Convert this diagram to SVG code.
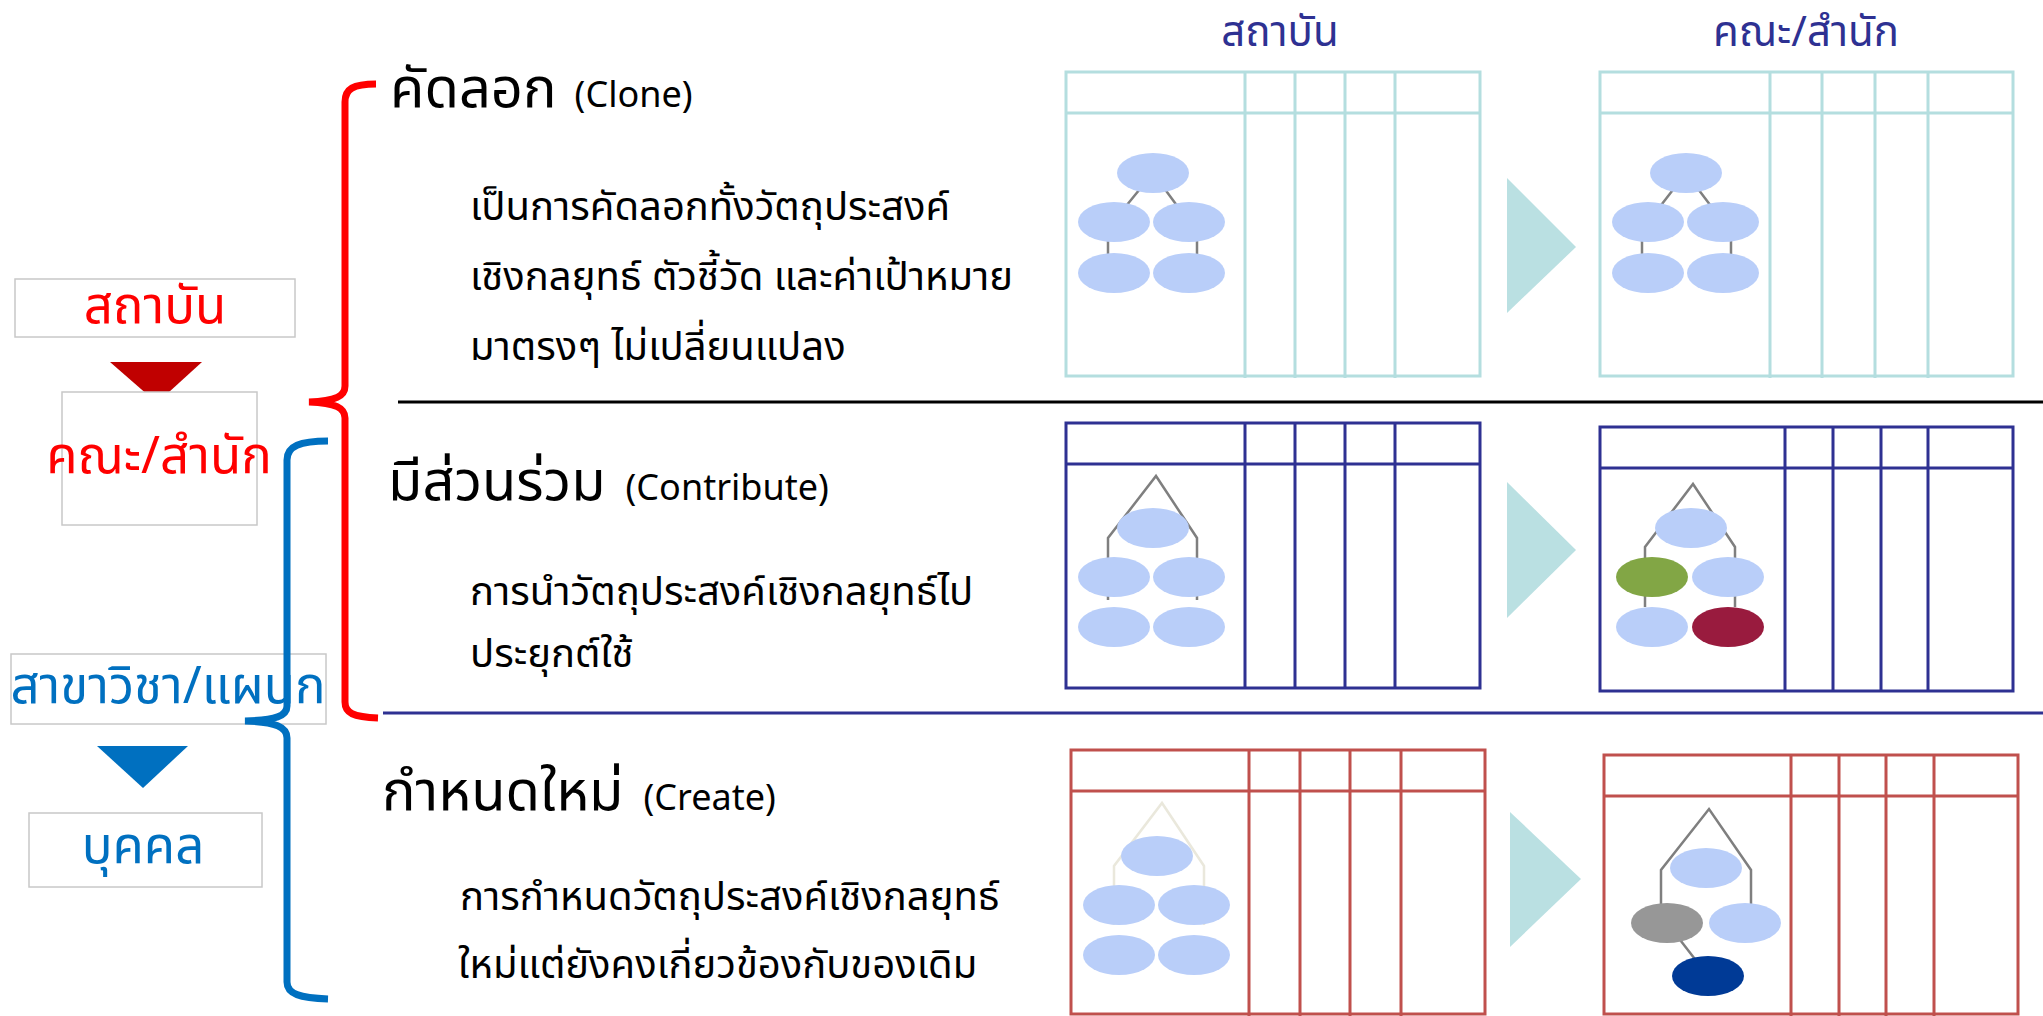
<svg xmlns="http://www.w3.org/2000/svg" width="2043" height="1016" viewBox="0 0 2043 1016">
<style>
text{font-family:"Noto Sans Thai","Noto Sans","Liberation Sans",sans-serif;}
.lbl{font-size:51px;text-anchor:middle;}
.red{fill:#FF0000;}
.blue{fill:#0070C0;}
.hdr{font-size:42px;fill:#2E3192;text-anchor:middle;}
.title{font-size:56px;fill:#000;}
.sub{font-size:36px;fill:#000;}
.body{font-size:40px;fill:#000;}
.box{fill:#fff;stroke:#C8C8C8;stroke-width:1.5;}
.tc{fill:none;stroke:#B4DEDF;stroke-width:3;}
.tn{fill:none;stroke:#2E3192;stroke-width:3;}
.tr{fill:none;stroke:#C0504D;stroke-width:3;}
.ln{fill:none;stroke:#7F7F7F;stroke-width:2.5;}
.lnf{fill:none;stroke:#EAE8DC;stroke-width:2.5;}
.nd{fill:#B9CEF9;}
.arr{fill:#BAE0E2;}
.brace{fill:none;stroke-width:7;stroke-linecap:butt;}
</style>
<rect width="2043" height="1016" fill="#fff"/>

<!-- left hierarchy -->
<g id="lvl-institute">
<rect class="box" x="15" y="279" width="280" height="58"/>
<text class="lbl red" x="155" y="323">สถาบัน</text>
</g>
<polygon id="arrow-red" points="110,362 202,362 157,403" fill="#C00000"/>
<g id="lvl-faculty">
<rect class="box" x="62" y="392" width="195" height="133"/>
<text class="lbl red" x="159" y="473">คณะ/สำนัก</text>
</g>
<g id="lvl-dept">
<rect class="box" x="11" y="654" width="315" height="70"/>
<text class="lbl blue" x="168" y="703">สาขาวิชา/แผนก</text>
</g>
<polygon id="arrow-blue" points="97,746 188,746 143,788" fill="#0070C0"/>
<g id="lvl-person">
<rect class="box" x="29" y="813" width="233" height="74"/>
<text class="lbl blue" x="143" y="863">บุคคล</text>
</g>

<!-- braces -->
<g id="braces">
<path class="brace" stroke="#FF0000" d="M376,84 C353,84 345,89 345,102 L345,386 C345,396 336,401 309,402 C336,403 345,408 345,418 L345,702 C345,713 353,717 378,718"/>
<path class="brace" stroke="#0070C0" d="M328,441 C300,441 287,446 287,460 L287,706 C287,716 276,720 245,721 C276,722 287,727 287,738 L287,982 C287,994 300,998 328,999"/>
</g>

<!-- separators -->
<line x1="398" y1="402" x2="2043" y2="402" stroke="#000" stroke-width="3"/>
<line x1="383" y1="713" x2="2043" y2="713" stroke="#2E3192" stroke-width="3"/>

<!-- column headers -->
<text class="hdr" x="1280" y="46">สถาบัน</text>
<text class="hdr" x="1806" y="46">คณะ/สำนัก</text>

<!-- section texts -->
<g id="clone-text">
<text x="390" y="107"><tspan class="title">คัดลอก</tspan><tspan class="sub" dx="18">(Clone)</tspan></text>
<text class="body" x="470" y="220">เป็นการคัดลอกทั้งวัตถุประสงค์</text>
<text class="body" x="470" y="290">เชิงกลยุทธ์ ตัวชี้วัด และค่าเป้าหมาย</text>
<text class="body" x="470" y="360">มาตรงๆ ไม่เปลี่ยนแปลง</text>
</g>
<g id="contribute-text">
<text x="388" y="500"><tspan class="title">มีส่วนร่วม</tspan><tspan class="sub" dx="20">(Contribute)</tspan></text>
<text class="body" x="470" y="605">การนำวัตถุประสงค์เชิงกลยุทธ์ไป</text>
<text class="body" x="470" y="667">ประยุกต์ใช้</text>
</g>
<g id="create-text">
<text x="382" y="810"><tspan class="title">กำหนดใหม่</tspan><tspan class="sub" dx="20">(Create)</tspan></text>
<text class="body" x="460" y="910">การกำหนดวัตถุประสงค์เชิงกลยุทธ์</text>
<text class="body" x="458" y="978">ใหม่แต่ยังคงเกี่ยวข้องกับของเดิม</text>
</g>

<!-- clone tables -->
<g id="clone-inst">
<rect class="tc" x="1066" y="72" width="414" height="304"/>
<path class="tc" d="M1066,113 H1480 M1245,72 V378 M1295,72 V378 M1345,72 V378 M1395,72 V378"/>
<path class="ln" d="M1153,173 L1113,222 M1153,173 L1189,222 M1108,222 V273 M1197,222 V273"/>
<ellipse class="nd" cx="1153" cy="173" rx="36" ry="20"/>
<ellipse class="nd" cx="1114" cy="222" rx="36" ry="20"/>
<ellipse class="nd" cx="1189" cy="222" rx="36" ry="20"/>
<ellipse class="nd" cx="1114" cy="273" rx="36" ry="20"/>
<ellipse class="nd" cx="1189" cy="273" rx="36" ry="20"/>
</g>
<polygon class="arr" points="1507,178 1576,247 1507,313"/>
<g id="clone-fac">
<rect class="tc" x="1600" y="72" width="413" height="304"/>
<path class="tc" d="M1600,113 H2013 M1770,72 V378 M1822,72 V378 M1875,72 V378 M1928,72 V378"/>
<path class="ln" d="M1686,173 L1648,222 M1686,173 L1723,222 M1642,222 V273 M1731,222 V273"/>
<ellipse class="nd" cx="1686" cy="173" rx="36" ry="20"/>
<ellipse class="nd" cx="1648" cy="222" rx="36" ry="20"/>
<ellipse class="nd" cx="1723" cy="222" rx="36" ry="20"/>
<ellipse class="nd" cx="1648" cy="273" rx="36" ry="20"/>
<ellipse class="nd" cx="1723" cy="273" rx="36" ry="20"/>
</g>

<!-- contribute tables -->
<g id="contrib-inst">
<rect class="tn" x="1066" y="423" width="414" height="265"/>
<path class="tn" d="M1066,464 H1480 M1245,423 V688 M1295,423 V688 M1345,423 V688 M1395,423 V688"/>
<path class="ln" d="M1108,600 V538 L1156,476 L1197,538 V600"/>
<ellipse class="nd" cx="1153" cy="528" rx="36" ry="20"/>
<ellipse class="nd" cx="1114" cy="577" rx="36" ry="20"/>
<ellipse class="nd" cx="1189" cy="577" rx="36" ry="20"/>
<ellipse class="nd" cx="1114" cy="627" rx="36" ry="20"/>
<ellipse class="nd" cx="1189" cy="627" rx="36" ry="20"/>
</g>
<polygon class="arr" points="1507,482 1576,550 1507,618"/>
<g id="contrib-fac">
<rect class="tn" x="1600" y="427" width="413" height="264"/>
<path class="tn" d="M1600,468 H2013 M1785,427 V691 M1833,427 V691 M1881,427 V691 M1928,427 V691"/>
<path class="ln" d="M1645,607 V547 L1693,484 L1735,547 V607"/>
<ellipse class="nd" cx="1691" cy="528" rx="36" ry="20"/>
<ellipse cx="1652" cy="577" rx="36" ry="20" fill="#82A645"/>
<ellipse class="nd" cx="1728" cy="577" rx="36" ry="20"/>
<ellipse class="nd" cx="1652" cy="627" rx="36" ry="20"/>
<ellipse cx="1728" cy="627" rx="36" ry="20" fill="#991B3E"/>
</g>

<!-- create tables -->
<g id="create-inst">
<rect class="tr" x="1071" y="750" width="414" height="264"/>
<path class="tr" d="M1071,791 H1485 M1249,750 V1016 M1300,750 V1016 M1350,750 V1016 M1401,750 V1016"/>
<path class="lnf" d="M1114,925 V866 L1162,803 L1204,866 V925"/>
<ellipse class="nd" cx="1157" cy="856" rx="36" ry="20"/>
<ellipse class="nd" cx="1119" cy="905" rx="36" ry="20"/>
<ellipse class="nd" cx="1194" cy="905" rx="36" ry="20"/>
<ellipse class="nd" cx="1119" cy="955" rx="36" ry="20"/>
<ellipse class="nd" cx="1194" cy="955" rx="36" ry="20"/>
</g>
<polygon class="arr" points="1510,812 1581,879 1510,947"/>
<g id="create-fac">
<rect class="tr" x="1604" y="755" width="414" height="259"/>
<path class="tr" d="M1604,796 H2018 M1791,755 V1016 M1839,755 V1016 M1886,755 V1016 M1934,755 V1016"/>
<path class="ln" d="M1661,907 V870 L1709,809 L1751,870 V907 M1667,923 L1708,976"/>
<ellipse class="nd" cx="1706" cy="868" rx="36" ry="20"/>
<ellipse cx="1667" cy="923" rx="36" ry="20" fill="#979797"/>
<ellipse class="nd" cx="1745" cy="923" rx="36" ry="20"/>
<ellipse cx="1708" cy="976" rx="36" ry="20" fill="#003A96"/>
</g>
</svg>
